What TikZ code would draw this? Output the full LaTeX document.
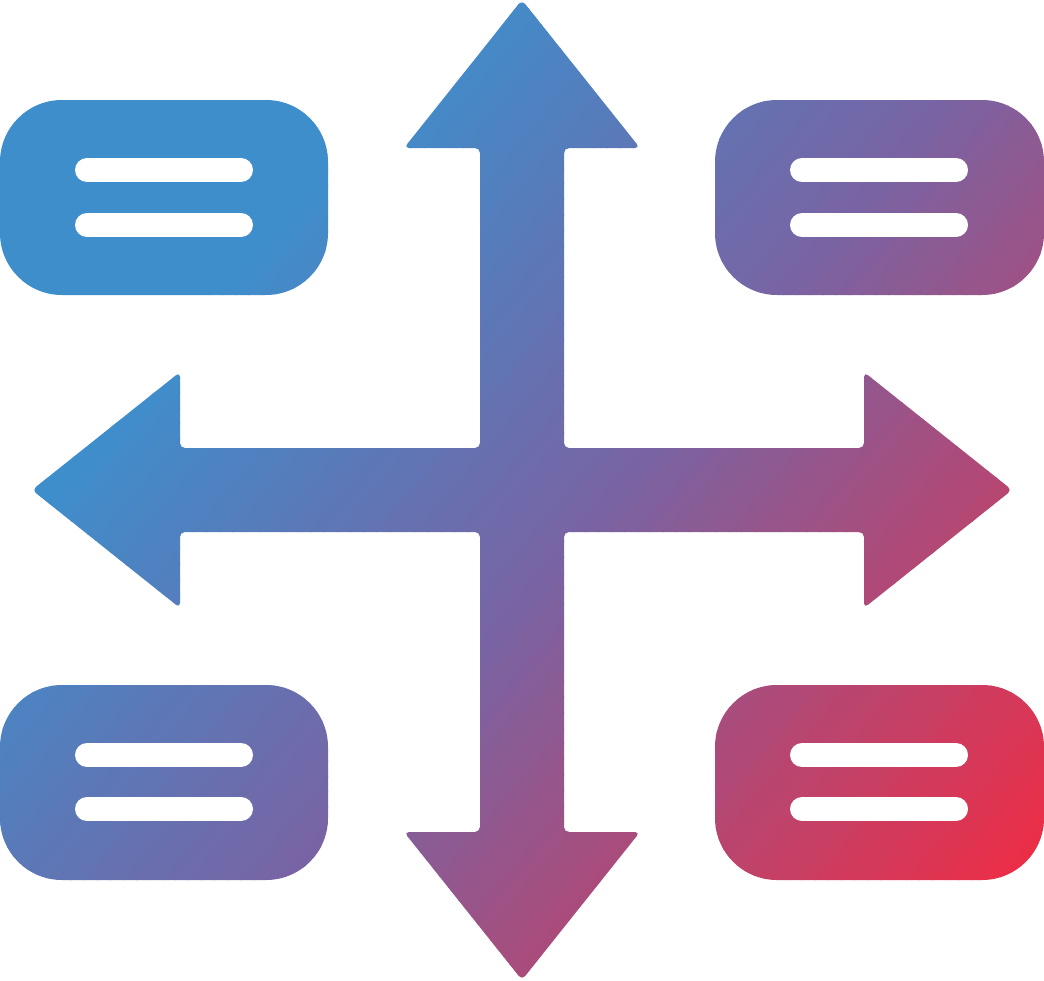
\documentclass[tikz,border=0pt]{standalone}
\definecolor{cBlue}{RGB}{62,142,204}
\definecolor{cPurple}{RGB}{120,100,164}
\definecolor{cRed}{RGB}{234,46,72}
\tikzset{
  bar/.style={draw=white, line width=24pt, line cap=round},
}
\begin{document}
\begin{tikzpicture}[x=1pt,y=-1pt]
\useasboundingbox (0,0) rectangle (1044,980);
% gradient-filled silhouette
\begin{scope}
  \clip[rounded corners=62pt]
    (0,100) rectangle (328,295)
    (715,100) rectangle (1044,295)
    (0,685) rectangle (328,880)
    (715,685) rectangle (1044,880)
    [rounded corners=5pt]
    (522,0) -- (640,148) -- (564,148) -- (564,448) -- (864,448) -- (864,372)
    -- (1012,490) -- (864,608) -- (864,532) -- (564,532) -- (564,832)
    -- (640,832) -- (522,980) -- (404,832) -- (480,832) -- (480,532)
    -- (180,532) -- (180,608) -- (32,490) -- (180,372) -- (180,448)
    -- (480,448) -- (480,148) -- (404,148) -- cycle;
  \begin{scope}[shift={(268,225)}, rotate=-40]
    \fill[cBlue] (-3000,-3000) rectangle (0.5,3000);
    \foreach \i in {0,...,97}{
      \ifnum\i<43
        \pgfmathtruncatemacro{\p}{(\i+0.5)/43.12*100}
        \colorlet{cc}{cPurple!\p!cBlue}
      \else
        \pgfmathtruncatemacro{\p}{((\i+0.5)-43.12)/54.88*100}
        \colorlet{cc}{cRed!\p!cPurple}
      \fi
      \fill[cc] (\i*10,-3000) rectangle ({\i*10+10.8},3000);
    }
    \fill[cRed] (980,-3000) rectangle (4000,3000);
  \end{scope}
\end{scope}
% text lines in the boxes
\coordinate (a1) at (87,170);  \coordinate (b1) at (241,170);
\coordinate (a2) at (87,225);  \coordinate (b2) at (241,225);
\coordinate (a3) at (802,170); \coordinate (b3) at (956,170);
\coordinate (a4) at (802,225); \coordinate (b4) at (956,225);
\coordinate (a5) at (87,755);  \coordinate (b5) at (241,755);
\coordinate (a6) at (87,809);  \coordinate (b6) at (241,809);
\coordinate (a7) at (802,755); \coordinate (b7) at (956,755);
\coordinate (a8) at (802,809); \coordinate (b8) at (956,809);
\foreach \k in {1,...,8}{\draw[bar] (a\k) -- (b\k);}
\end{tikzpicture}
\end{document}
